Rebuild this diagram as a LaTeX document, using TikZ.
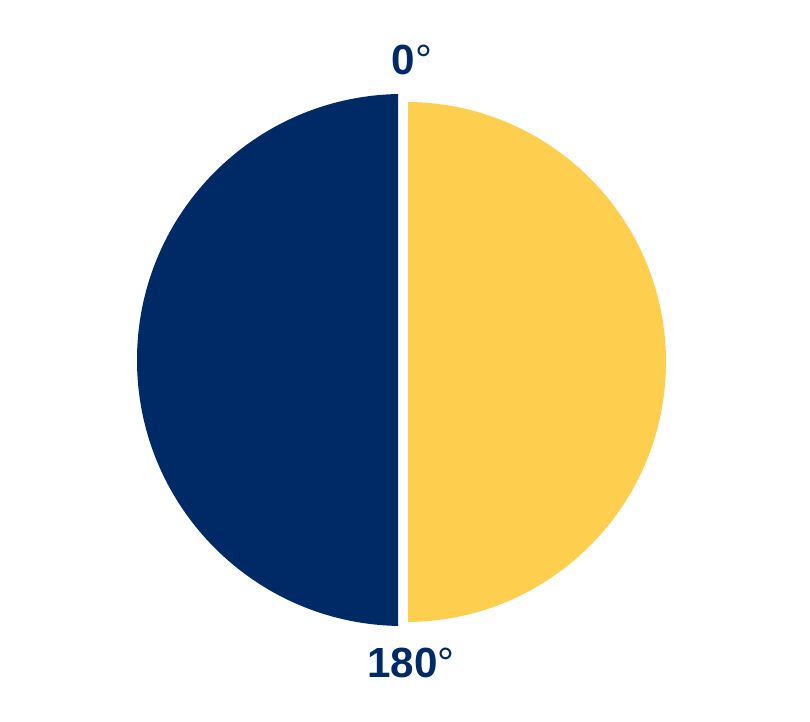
\documentclass[tikz,border=0pt]{standalone}
\usepackage{fontspec}
\setmainfont{Liberation Sans}
\usetikzlibrary{positioning}
\definecolor{cnavy}{HTML}{002A66}
\definecolor{cyellow}{HTML}{FECE4F}
\tikzset{
  every picture/.style={x=0.025cm, y=0.025cm},
  half/.style={fill=#1, draw=none},
  angle/.style={text=cnavy, font=\fontsize{30}{30}\selectfont\bfseries, inner sep=0pt, anchor=base},
}
\newcommand{\dg}{{\mdseries°}}

\begin{document}
\begin{tikzpicture}
  \useasboundingbox (0,0) rectangle (810,722);
  % two halves, split by a thin white gap
  \begin{scope}
    \clip (0,0) rectangle (398,722);
    \fill[half=cnavy] (403,362) circle (266);
  \end{scope}
  \begin{scope}
    \clip (408,0) rectangle (810,722);
    \fill[half=cyellow] (406,360) circle (260);
  \end{scope}
  \node[angle] (zero) at (412,647) {0\dg};
  \node[angle] (half) at (411,44) {180\dg};
\end{tikzpicture}
\end{document}
